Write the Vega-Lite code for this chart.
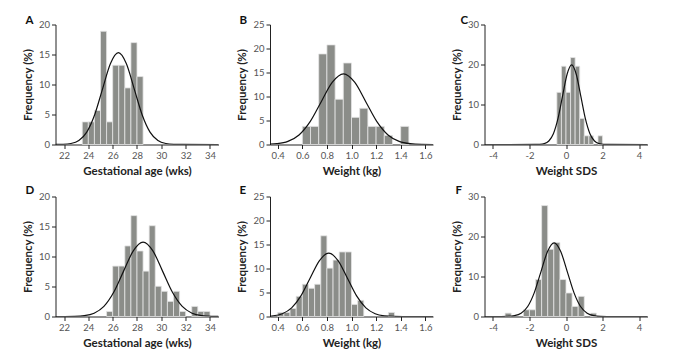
{
  "$schema": "https://vega.github.io/schema/vega-lite/v6.json",
  "padding": {"left": 21.5, "top": 14.5, "right": 5, "bottom": 5},
  "background": "white",
  "datasets": {
    "bars": [
      {"p": "A", "x": 23.5, "xe": 24.0, "y": 3.77},
      {"p": "A", "x": 24.0, "xe": 24.5, "y": 3.77},
      {"p": "A", "x": 24.5, "xe": 25.0, "y": 5.66},
      {"p": "A", "x": 25.0, "xe": 25.5, "y": 18.87},
      {"p": "A", "x": 25.5, "xe": 26.0, "y": 3.77},
      {"p": "A", "x": 26.0, "xe": 26.5, "y": 13.21},
      {"p": "A", "x": 26.5, "xe": 27.0, "y": 13.21},
      {"p": "A", "x": 27.0, "xe": 27.5, "y": 9.43},
      {"p": "A", "x": 27.5, "xe": 28.0, "y": 16.98},
      {"p": "A", "x": 28.0, "xe": 28.5, "y": 11.32},

      {"p": "B", "x": 0.6, "xe": 0.6667, "y": 3.77},
      {"p": "B", "x": 0.6667, "xe": 0.7333, "y": 3.77},
      {"p": "B", "x": 0.7333, "xe": 0.8, "y": 18.87},
      {"p": "B", "x": 0.8, "xe": 0.8667, "y": 20.75},
      {"p": "B", "x": 0.8667, "xe": 0.9333, "y": 9.43},
      {"p": "B", "x": 0.9333, "xe": 1.0, "y": 16.98},
      {"p": "B", "x": 1.0, "xe": 1.0667, "y": 5.66},
      {"p": "B", "x": 1.0667, "xe": 1.1333, "y": 7.55},
      {"p": "B", "x": 1.1333, "xe": 1.2, "y": 3.77},
      {"p": "B", "x": 1.2, "xe": 1.2667, "y": 3.77},
      {"p": "B", "x": 1.2667, "xe": 1.3333, "y": 1.89},
      {"p": "B", "x": 1.4, "xe": 1.4667, "y": 3.77},

      {"p": "C", "x": -0.5, "xe": -0.25, "y": 13.04},
      {"p": "C", "x": -0.25, "xe": 0.0, "y": 19.57},
      {"p": "C", "x": 0.0, "xe": 0.25, "y": 13.04},
      {"p": "C", "x": 0.25, "xe": 0.5, "y": 21.74},
      {"p": "C", "x": 0.5, "xe": 0.75, "y": 19.57},
      {"p": "C", "x": 0.75, "xe": 1.0, "y": 6.52},
      {"p": "C", "x": 1.0, "xe": 1.25, "y": 2.17},
      {"p": "C", "x": 1.25, "xe": 1.5, "y": 2.17},
      {"p": "C", "x": 1.75, "xe": 2.0, "y": 2.17},

      {"p": "D", "x": 25.5, "xe": 26.0, "y": 0.84},
      {"p": "D", "x": 26.0, "xe": 26.5, "y": 8.40},
      {"p": "D", "x": 26.5, "xe": 27.0, "y": 8.40},
      {"p": "D", "x": 27.0, "xe": 27.5, "y": 11.76},
      {"p": "D", "x": 27.5, "xe": 28.0, "y": 16.81},
      {"p": "D", "x": 28.0, "xe": 28.5, "y": 10.92},
      {"p": "D", "x": 28.5, "xe": 29.0, "y": 7.56},
      {"p": "D", "x": 29.0, "xe": 29.5, "y": 15.13},
      {"p": "D", "x": 29.5, "xe": 30.0, "y": 5.04},
      {"p": "D", "x": 30.0, "xe": 30.5, "y": 4.20},
      {"p": "D", "x": 30.5, "xe": 31.0, "y": 2.52},
      {"p": "D", "x": 31.0, "xe": 31.5, "y": 4.20},
      {"p": "D", "x": 31.5, "xe": 32.0, "y": 0.84},
      {"p": "D", "x": 32.5, "xe": 33.0, "y": 1.68},
      {"p": "D", "x": 33.0, "xe": 33.5, "y": 0.84},
      {"p": "D", "x": 33.5, "xe": 34.0, "y": 0.84},

      {"p": "E", "x": 0.40, "xe": 0.45, "y": 0.84},
      {"p": "E", "x": 0.45, "xe": 0.50, "y": 0.84},
      {"p": "E", "x": 0.50, "xe": 0.55, "y": 1.68},
      {"p": "E", "x": 0.55, "xe": 0.60, "y": 4.20},
      {"p": "E", "x": 0.60, "xe": 0.65, "y": 6.72},
      {"p": "E", "x": 0.65, "xe": 0.70, "y": 5.88},
      {"p": "E", "x": 0.70, "xe": 0.75, "y": 6.72},
      {"p": "E", "x": 0.75, "xe": 0.80, "y": 16.81},
      {"p": "E", "x": 0.80, "xe": 0.85, "y": 10.08},
      {"p": "E", "x": 0.85, "xe": 0.90, "y": 11.76},
      {"p": "E", "x": 0.90, "xe": 0.95, "y": 13.45},
      {"p": "E", "x": 0.95, "xe": 1.00, "y": 13.45},
      {"p": "E", "x": 1.00, "xe": 1.05, "y": 2.52},
      {"p": "E", "x": 1.05, "xe": 1.10, "y": 3.36},
      {"p": "E", "x": 1.30, "xe": 1.35, "y": 0.84},

      {"p": "F", "x": -3.3333, "xe": -3.0, "y": 0.84},
      {"p": "F", "x": -2.3333, "xe": -2.0, "y": 1.68},
      {"p": "F", "x": -2.0, "xe": -1.6667, "y": 1.68},
      {"p": "F", "x": -1.6667, "xe": -1.3333, "y": 9.24},
      {"p": "F", "x": -1.3333, "xe": -1.0, "y": 27.73},
      {"p": "F", "x": -1.0, "xe": -0.6667, "y": 16.81},
      {"p": "F", "x": -0.6667, "xe": -0.3333, "y": 18.49},
      {"p": "F", "x": -0.3333, "xe": 0.0, "y": 9.24},
      {"p": "F", "x": 0.0, "xe": 0.3333, "y": 5.88},
      {"p": "F", "x": 0.3333, "xe": 0.6667, "y": 2.52},
      {"p": "F", "x": 0.6667, "xe": 1.0, "y": 5.04},
      {"p": "F", "x": 1.3333, "xe": 1.6667, "y": 0.84}
    ],
    "curves": [
      {"p": "A", "x": 21.3, "y": 0.005},
      {"p": "A", "x": 21.92, "y": 0.034},
      {"p": "A", "x": 22.57, "y": 0.17},
      {"p": "A", "x": 23.22, "y": 0.67},
      {"p": "A", "x": 23.87, "y": 2.07},
      {"p": "A", "x": 24.52, "y": 4.97},
      {"p": "A", "x": 25.17, "y": 9.28},
      {"p": "A", "x": 25.82, "y": 13.5},
      {"p": "A", "x": 26.47, "y": 15.3},
      {"p": "A", "x": 27.12, "y": 13.5},
      {"p": "A", "x": 27.77, "y": 9.28},
      {"p": "A", "x": 28.42, "y": 4.97},
      {"p": "A", "x": 29.07, "y": 2.07},
      {"p": "A", "x": 29.72, "y": 0.67},
      {"p": "A", "x": 30.37, "y": 0.17},
      {"p": "A", "x": 31.02, "y": 0.034},
      {"p": "A", "x": 31.67, "y": 0.005},
      {"p": "A", "x": 34.7, "y": 0},

      {"p": "B", "x": 0.337, "y": 0.063},
      {"p": "B", "x": 0.392, "y": 0.163},
      {"p": "B", "x": 0.4825, "y": 0.645},
      {"p": "B", "x": 0.573, "y": 1.99},
      {"p": "B", "x": 0.6635, "y": 4.77},
      {"p": "B", "x": 0.754, "y": 8.92},
      {"p": "B", "x": 0.8445, "y": 12.97},
      {"p": "B", "x": 0.935, "y": 14.7},
      {"p": "B", "x": 1.0255, "y": 12.97},
      {"p": "B", "x": 1.116, "y": 8.92},
      {"p": "B", "x": 1.2065, "y": 4.77},
      {"p": "B", "x": 1.297, "y": 1.99},
      {"p": "B", "x": 1.3875, "y": 0.645},
      {"p": "B", "x": 1.478, "y": 0.163},
      {"p": "B", "x": 1.5685, "y": 0.032},
      {"p": "B", "x": 1.663, "y": 0.005},

      {"p": "C", "x": -4.46, "y": 0},
      {"p": "C", "x": -1.69, "y": 0.007},
      {"p": "C", "x": -1.44, "y": 0.044},
      {"p": "C", "x": -1.19, "y": 0.221},
      {"p": "C", "x": -0.94, "y": 0.874},
      {"p": "C", "x": -0.69, "y": 2.69},
      {"p": "C", "x": -0.44, "y": 6.46},
      {"p": "C", "x": -0.19, "y": 12.07},
      {"p": "C", "x": 0.06, "y": 17.56},
      {"p": "C", "x": 0.31, "y": 19.9},
      {"p": "C", "x": 0.56, "y": 17.56},
      {"p": "C", "x": 0.81, "y": 12.07},
      {"p": "C", "x": 1.06, "y": 6.46},
      {"p": "C", "x": 1.31, "y": 2.69},
      {"p": "C", "x": 1.56, "y": 0.874},
      {"p": "C", "x": 1.81, "y": 0.221},
      {"p": "C", "x": 2.06, "y": 0.044},
      {"p": "C", "x": 2.31, "y": 0.007},
      {"p": "C", "x": 4.46, "y": 0},

      {"p": "D", "x": 21.3, "y": 0.001},
      {"p": "D", "x": 22.06, "y": 0.004},
      {"p": "D", "x": 22.865, "y": 0.027},
      {"p": "D", "x": 23.67, "y": 0.138},
      {"p": "D", "x": 24.475, "y": 0.544},
      {"p": "D", "x": 25.28, "y": 1.68},
      {"p": "D", "x": 26.085, "y": 4.03},
      {"p": "D", "x": 26.89, "y": 7.52},
      {"p": "D", "x": 27.695, "y": 10.94},
      {"p": "D", "x": 28.5, "y": 12.4},
      {"p": "D", "x": 29.305, "y": 10.94},
      {"p": "D", "x": 30.11, "y": 7.52},
      {"p": "D", "x": 30.915, "y": 4.03},
      {"p": "D", "x": 31.72, "y": 1.68},
      {"p": "D", "x": 32.525, "y": 0.544},
      {"p": "D", "x": 33.33, "y": 0.138},
      {"p": "D", "x": 34.135, "y": 0.027},
      {"p": "D", "x": 34.7, "y": 0.008},

      {"p": "E", "x": 0.337, "y": 0.087},
      {"p": "E", "x": 0.362, "y": 0.147},
      {"p": "E", "x": 0.4375, "y": 0.58},
      {"p": "E", "x": 0.513, "y": 1.79},
      {"p": "E", "x": 0.5885, "y": 4.29},
      {"p": "E", "x": 0.664, "y": 8.01},
      {"p": "E", "x": 0.7395, "y": 11.65},
      {"p": "E", "x": 0.815, "y": 13.2},
      {"p": "E", "x": 0.8905, "y": 11.65},
      {"p": "E", "x": 0.966, "y": 8.01},
      {"p": "E", "x": 1.0415, "y": 4.29},
      {"p": "E", "x": 1.117, "y": 1.79},
      {"p": "E", "x": 1.1925, "y": 0.58},
      {"p": "E", "x": 1.268, "y": 0.147},
      {"p": "E", "x": 1.3435, "y": 0.029},
      {"p": "E", "x": 1.419, "y": 0.004},
      {"p": "E", "x": 1.663, "y": 0},

      {"p": "F", "x": -4.46, "y": 0},
      {"p": "F", "x": -3.542, "y": 0.006},
      {"p": "F", "x": -3.1805, "y": 0.04},
      {"p": "F", "x": -2.819, "y": 0.204},
      {"p": "F", "x": -2.4575, "y": 0.808},
      {"p": "F", "x": -2.096, "y": 2.49},
      {"p": "F", "x": -1.7345, "y": 5.97},
      {"p": "F", "x": -1.373, "y": 11.16},
      {"p": "F", "x": -1.0115, "y": 16.24},
      {"p": "F", "x": -0.65, "y": 18.4},
      {"p": "F", "x": -0.2885, "y": 16.24},
      {"p": "F", "x": 0.073, "y": 11.16},
      {"p": "F", "x": 0.4345, "y": 5.97},
      {"p": "F", "x": 0.796, "y": 2.49},
      {"p": "F", "x": 1.1575, "y": 0.808},
      {"p": "F", "x": 1.519, "y": 0.204},
      {"p": "F", "x": 1.8805, "y": 0.04},
      {"p": "F", "x": 2.242, "y": 0.006},
      {"p": "F", "x": 4.46, "y": 0}
    ]
  },
  "columns": 3,
  "spacing": {"row": 52, "column": 51.5},
  "bounds": "flush",
  "concat": [
    {
      "width": 163, "height": 120,
      "title": {"text": "A", "dx": -30, "dy": 11},
      "encoding": {
        "x": {"field": "x", "type": "quantitative", "scale": {"domain": [21.3, 34.7], "nice": false, "zero": false}, "axis": {"values": [22, 24, 26, 28, 30, 32, 34], "title": "Gestational age (wks)"}},
        "y": {"field": "y", "type": "quantitative", "scale": {"domain": [0, 20], "nice": false}, "axis": {"values": [0, 5, 10, 15, 20], "title": "Frequency (%)"}}
      },
      "layer": [
        {"data": {"name": "bars"}, "transform": [{"filter": {"field": "p", "equal": "A"}}], "mark": {"type": "rect", "fill": "#8b8d89", "stroke": "#e4e4e4", "strokeWidth": 0.8}, "encoding": {"x2": {"field": "xe"}, "y2": {"datum": 0}}},
        {"data": {"name": "curves"}, "transform": [{"filter": {"field": "p", "equal": "A"}}], "mark": {"type": "line", "color": "#111111", "strokeWidth": 1.2, "interpolate": "monotone", "clip": true}, "encoding": {}}
      ]
    },
    {
      "width": 163, "height": 120,
      "title": {"text": "B", "dx": -30.6, "dy": 11},
      "encoding": {
        "x": {"field": "x", "type": "quantitative", "scale": {"domain": [0.337, 1.663], "nice": false, "zero": false}, "axis": {"values": [0.4, 0.6, 0.8, 1.0, 1.2, 1.4, 1.6], "format": ".1f", "title": "Weight (kg)"}},
        "y": {"field": "y", "type": "quantitative", "scale": {"domain": [0, 25], "nice": false}, "axis": {"values": [0, 5, 10, 15, 20, 25], "title": "Frequency (%)"}}
      },
      "layer": [
        {"data": {"name": "bars"}, "transform": [{"filter": {"field": "p", "equal": "B"}}], "mark": {"type": "rect", "fill": "#8b8d89", "stroke": "#e4e4e4", "strokeWidth": 0.8}, "encoding": {"x2": {"field": "xe"}, "y2": {"datum": 0}}},
        {"data": {"name": "curves"}, "transform": [{"filter": {"field": "p", "equal": "B"}}], "mark": {"type": "line", "color": "#111111", "strokeWidth": 1.2, "interpolate": "monotone", "clip": true}, "encoding": {}}
      ]
    },
    {
      "width": 163, "height": 120,
      "title": {"text": "C", "dx": -24, "dy": 11},
      "encoding": {
        "x": {"field": "x", "type": "quantitative", "scale": {"domain": [-4.46, 4.46], "nice": false, "zero": false}, "axis": {"values": [-4, -2, 0, 2, 4], "labelExpr": "'' + datum.value", "title": "Weight SDS"}},
        "y": {"field": "y", "type": "quantitative", "scale": {"domain": [0, 30], "nice": false}, "axis": {"values": [0, 10, 20, 30], "title": "Frequency (%)"}}
      },
      "layer": [
        {"data": {"name": "bars"}, "transform": [{"filter": {"field": "p", "equal": "C"}}], "mark": {"type": "rect", "fill": "#8b8d89", "stroke": "#e4e4e4", "strokeWidth": 0.8}, "encoding": {"x2": {"field": "xe"}, "y2": {"datum": 0}}},
        {"data": {"name": "curves"}, "transform": [{"filter": {"field": "p", "equal": "C"}}], "mark": {"type": "line", "color": "#111111", "strokeWidth": 1.2, "interpolate": "monotone", "clip": true}, "encoding": {}}
      ]
    },
    {
      "width": 163, "height": 120,
      "title": {"text": "D", "dx": -30, "dy": 9},
      "encoding": {
        "x": {"field": "x", "type": "quantitative", "scale": {"domain": [21.3, 34.7], "nice": false, "zero": false}, "axis": {"values": [22, 24, 26, 28, 30, 32, 34], "title": "Gestational age (wks)"}},
        "y": {"field": "y", "type": "quantitative", "scale": {"domain": [0, 20], "nice": false}, "axis": {"values": [0, 5, 10, 15, 20], "title": "Frequency (%)"}}
      },
      "layer": [
        {"data": {"name": "bars"}, "transform": [{"filter": {"field": "p", "equal": "D"}}], "mark": {"type": "rect", "fill": "#8b8d89", "stroke": "#e4e4e4", "strokeWidth": 0.8}, "encoding": {"x2": {"field": "xe"}, "y2": {"datum": 0}}},
        {"data": {"name": "curves"}, "transform": [{"filter": {"field": "p", "equal": "D"}}], "mark": {"type": "line", "color": "#111111", "strokeWidth": 1.2, "interpolate": "monotone", "clip": true}, "encoding": {}}
      ]
    },
    {
      "width": 163, "height": 120,
      "title": {"text": "E", "dx": -30.6, "dy": 9},
      "encoding": {
        "x": {"field": "x", "type": "quantitative", "scale": {"domain": [0.337, 1.663], "nice": false, "zero": false}, "axis": {"values": [0.4, 0.6, 0.8, 1.0, 1.2, 1.4, 1.6], "format": ".1f", "title": "Weight (kg)"}},
        "y": {"field": "y", "type": "quantitative", "scale": {"domain": [0, 25], "nice": false}, "axis": {"values": [0, 5, 10, 15, 20, 25], "title": "Frequency (%)"}}
      },
      "layer": [
        {"data": {"name": "bars"}, "transform": [{"filter": {"field": "p", "equal": "E"}}], "mark": {"type": "rect", "fill": "#8b8d89", "stroke": "#e4e4e4", "strokeWidth": 0.8}, "encoding": {"x2": {"field": "xe"}, "y2": {"datum": 0}}},
        {"data": {"name": "curves"}, "transform": [{"filter": {"field": "p", "equal": "E"}}], "mark": {"type": "line", "color": "#111111", "strokeWidth": 1.2, "interpolate": "monotone", "clip": true}, "encoding": {}}
      ]
    },
    {
      "width": 163, "height": 120,
      "title": {"text": "F", "dx": -29, "dy": 9},
      "encoding": {
        "x": {"field": "x", "type": "quantitative", "scale": {"domain": [-4.46, 4.46], "nice": false, "zero": false}, "axis": {"values": [-4, -2, 0, 2, 4], "labelExpr": "'' + datum.value", "title": "Weight SDS"}},
        "y": {"field": "y", "type": "quantitative", "scale": {"domain": [0, 30], "nice": false}, "axis": {"values": [0, 10, 20, 30], "title": "Frequency (%)"}}
      },
      "layer": [
        {"data": {"name": "bars"}, "transform": [{"filter": {"field": "p", "equal": "F"}}], "mark": {"type": "rect", "fill": "#8b8d89", "stroke": "#e4e4e4", "strokeWidth": 0.8}, "encoding": {"x2": {"field": "xe"}, "y2": {"datum": 0}}},
        {"data": {"name": "curves"}, "transform": [{"filter": {"field": "p", "equal": "F"}}], "mark": {"type": "line", "color": "#111111", "strokeWidth": 1.2, "interpolate": "monotone", "clip": true}, "encoding": {}}
      ]
    }
  ],
  "config": {
    "view": {"stroke": null},
    "axis": {
      "grid": false,
      "domainColor": "#222222",
      "tickColor": "#222222",
      "tickSize": 4,
      "labelFont": "Lato",
      "labelFontSize": 9.5,
      "labelColor": "#555555",
      "labelPadding": 2,
      "titleFont": "Lato",
      "titleFontSize": 11.5,
      "titleFontWeight": "bold",
      "titleColor": "#222222",
      "titlePadding": 5
    },
    "title": {
      "anchor": "start",
      "frame": "group",
      "offset": 0,
      "baseline": "bottom",
      "font": "Lato",
      "fontSize": 11.5,
      "fontWeight": "bold",
      "color": "#111111"
    }
  }
}
